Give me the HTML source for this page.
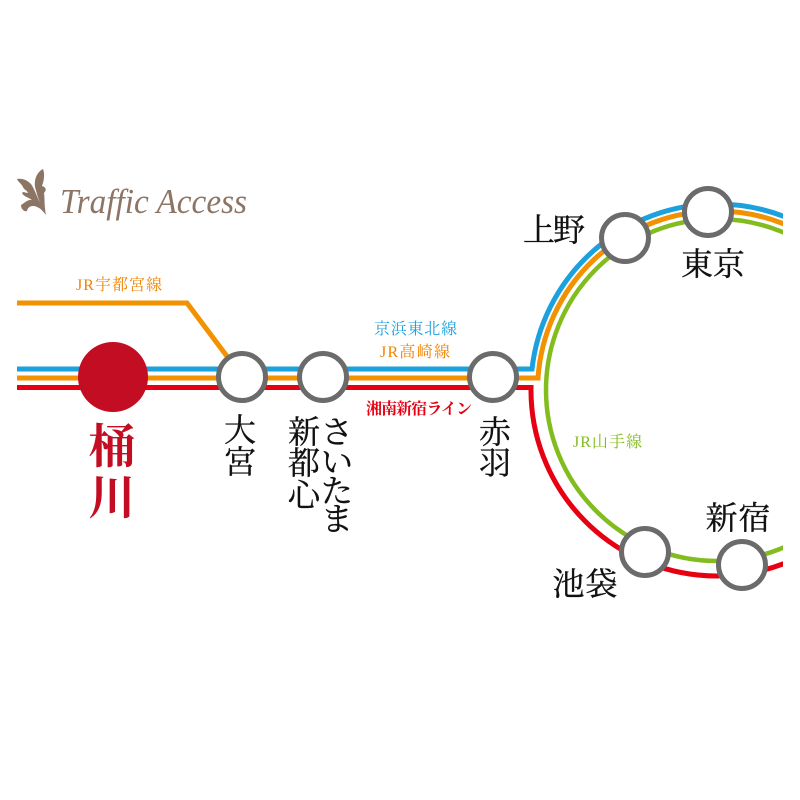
<!DOCTYPE html>
<html lang="ja"><head><meta charset="utf-8"><title>Traffic Access</title>
<style>
html,body{margin:0;padding:0;background:#fff;width:800px;height:800px;overflow:hidden}
svg{display:block}
.s{font-family:"Liberation Serif","Noto Serif CJK JP","Noto Serif CJK SC",serif;font-size:32px;fill:#111;stroke:#111;stroke-width:.35;text-anchor:middle}
.l{font-family:"Liberation Serif","Noto Serif CJK JP","Noto Serif CJK SC",serif;font-size:16px}
</style></head><body>
<svg xmlns="http://www.w3.org/2000/svg" width="800" height="800" viewBox="0 0 800 800">
<defs><clipPath id="c"><rect x="0" y="0" width="783" height="800"/></clipPath></defs>
<g clip-path="url(#c)" fill="none" stroke-width="5">
<circle cx="717" cy="390" r="171" stroke="#82bc1e" stroke-width="4.5"/>
<path d="M17 369H532A186 186 0 0 1 717 204A186 186 0 0 1 903 390" stroke="#1ba1dd"/>
<path d="M17 378H538A179 179 0 0 1 717 211A179 179 0 0 1 896 390" stroke="#f39200"/>
<path d="M17 303H187L232 363" stroke="#f39200"/>
<path d="M17 387.500H531A186 186 0 0 0 717 576A186 186 0 0 0 903 390" stroke="#e60012"/>
</g>
<circle cx="113" cy="377" r="35" fill="#c30d23"/>
<g fill="#fff" stroke="#6b6b6b" stroke-width="5">
<circle cx="242" cy="377" r="23.500"/>
<circle cx="323" cy="377" r="23.500"/>
<circle cx="493" cy="377" r="23.500"/>
<circle cx="625" cy="238" r="23.500"/>
<circle cx="708" cy="212" r="23.500"/>
<circle cx="645" cy="552" r="23.500"/>
<circle cx="742" cy="565" r="23.500"/>
</g>
<g fill="#8d7565">
<path d="M46 215C44 205 45 200 44 193C47 190 46 187 42 186C44 181 45 174 43 169C37 172 34 179 35 187C37 194 38 198 40 203C37 197 35 190 31 184C27 180 22 178 17 179C18 182 21 183 23 187C24 190 27 190 28 193C26 193 23 191 22 193C24 197 28 197 32 200C28 199 23 204 21 205C21 209 24 212 27 211C28 206 33 205 37 207C40 208 43 211 46 215Z"/>
</g>
<text x="60" y="213" font-family="'Liberation Serif',serif" font-style="italic" font-size="35" fill="#8d7565" textLength="187" lengthAdjust="spacingAndGlyphs">Traffic Access</text>
<text class="l" x="76" y="290" fill="#f08300" textLength="86">JR宇都宮線</text>
<text class="l" x="374" y="334" fill="#1ba1dd" textLength="83">京浜東北線</text>
<text class="l" x="380" y="357" fill="#f08300" textLength="70">JR高崎線</text>
<text class="l" x="366" y="414" fill="#e60012" font-weight="700" font-size="15" textLength="106">湘南新宿ライン</text>
<text class="l" x="573" y="447" fill="#82bc1e" textLength="69">JR山手線</text>
<text class="s" x="554" y="241" textLength="62">上野</text>
<text class="s" x="713" y="275" textLength="64">東京</text>
<text class="s" x="738" y="529" textLength="65">新宿</text>
<text class="s" x="585" y="595" textLength="65">池袋</text>
<text class="s" x="240" y="441">大</text><text class="s" x="240" y="473">宮</text>
<text class="s" x="304" y="443">新</text><text class="s" x="304" y="474">都</text><text class="s" x="304" y="506">心</text>
<text class="s" x="337" y="443">さ</text><text class="s" x="337" y="473">い</text><text class="s" x="337" y="502">た</text><text class="s" x="337" y="530">ま</text>
<text class="s" x="495" y="443">赤</text><text class="s" x="495" y="474">羽</text>
<g font-family="'Liberation Serif','Noto Serif CJK JP','Noto Serif CJK SC',serif" font-size="47" font-weight="700" fill="#c30d23" text-anchor="middle">
<text x="112" y="463">桶</text><text x="112" y="514">川</text>
</g>
</svg>
</body></html>
